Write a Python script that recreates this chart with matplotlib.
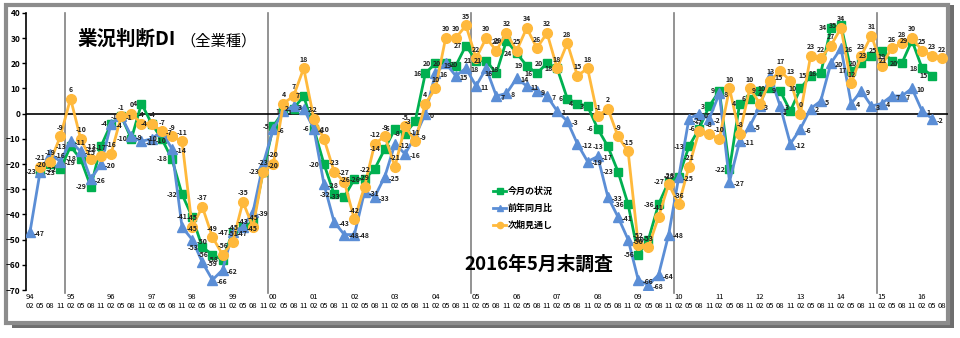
import numpy as np
import matplotlib.pyplot as plt
from matplotlib.patches import Rectangle
from matplotlib.lines import Line2D

plt.rcParams['font.family'] = ['Noto Sans CJK JP', 'DejaVu Sans']

# quarters 1994-02 .. 2016-08
years = ['94', '95', '96', '97', '98', '99', '00', '01', '02', '03', '04',
         '05', '06', '07', '08', '09', '10', '11', '12', '13', '14', '15', '16']
months = ['02', '05', '08', '11']

nan = np.nan
# 今月の状況
green = [nan, -23, -20, -22, -13, -18, -29, -13, -4, -1, -10, 4, -4, -10, -18, -32,
         -41, -53, -56, -58, -47, -45, -43, -23, -5, 1, 2, 7, -6, -20, -32, -33,
         -26, -26, -22, -14, -6, -8, -3, 16, 20, 20, 19, 27, 21, 21, 16, 29,
         24, 19, 16, 20, 18, 6, 4, 3, -6, -13, -23, -36, -56, -50, -36, -27,
         -25, -13, -6, 3, 9, -22, 4, 6, 9, 10, 9, 1, 10, 15, 16, 34,
         35, 17, 20, 23, 25, 21, 20, 29, 18, 15, nan]
# 前年同月比
blue = [-47, -23, -16, -19, -11, -15, -26, -20, -4, -1, -9, -11, -10, -7, -14, -45,
        -50, -59, -66, -62, -47, -45, -39, -20, -6, 1, 3, 2, -6, -28, -43, -48,
        -48, -31, -33, -25, -12, -16, -9, 0, 16, 20, 15, 18, 11, 18, 7, 8,
        14, 11, 9, 7, 1, -3, -12, -19, -17, -33, -41, -50, -66, -68, -64, -48,
        -25, -2, 0, -2, 8, -27, -11, -5, 3, 15, 3, -12, -6, 2, 5, 20,
        26, 4, 9, 3, 4, 7, 7, 10, 1, -2, nan]
# 次期見通し
orange = [nan, -21, -19, -9, 6, -10, -18, -17, -16, -1, 0, -4, -4, -7, -9, -11,
          -45, -37, -49, -56, -51, -35, -45, -23, -20, 4, 7, 18, -2, -10, -23, -27,
          -42, -29, -12, -9, -21, -5, -11, 4, 10, 30, 30, 35, 22, 30, 25, 32,
          25, 34, 26, 32, 18, 28, 15, 18, -1, 2, -9, -15, -52, -53, -41, -28,
          -36, -21, -7, -8, -10, 10, -8, 10, 4, 13, 17, 13, 0, 23, 22, 27,
          34, 12, 23, 31, 19, 26, 28, 30, 25, 23, 22]

C_GREEN = '#00B050'
C_BLUE = '#5B8ED6'
C_ORANGE = '#FFB93C'

x = np.arange(len(orange))

fig = plt.figure(figsize=(9.6, 3.38), dpi=100)
# outer frame with shadow
fig.patches.append(Rectangle((0.012, 0.03), 0.982, 0.955, transform=fig.transFigure,
                             facecolor='#6e6e6e', edgecolor='none', zorder=-2))
fig.patches.append(Rectangle((0.006, 0.045), 0.982, 0.94, transform=fig.transFigure,
                             facecolor='white', edgecolor='#8c8c8c', lw=3, zorder=-1))

ax = fig.add_axes([0.027, 0.142, 0.961, 0.82])
ax.set_zorder(2)
ax.set_facecolor('none')

series = [
    (green, C_GREEN, 's', 6, '今月の状況', (-3, 0), 'right', 'center'),
    (blue, C_BLUE, '^', 6.5, '前年同月比', (3, -1), 'left', 'center'),
    (orange, C_ORANGE, 'o', 7, '次期見通し', (0, 4), 'center', 'bottom'),
]
for vals, col, mk, ms, name, off, ha, va in series:
    ax.plot(x, vals, color=col, lw=2, marker=mk, ms=ms, label=name, zorder=3)
for vals, col, mk, ms, name, off, ha, va in series:
    for i, v in enumerate(vals):
        if np.isnan(v):
            continue
        ax.annotate(str(int(v)), (i, v), xytext=off, textcoords='offset points',
                    ha=ha, va=va, fontsize=5, fontweight='bold', color='#222222',
                    zorder=5)

ax.axhline(0, color='black', lw=1.2, zorder=2)
for b in [3.5, 23.5, 43.5, 63.5, 83.5]:
    ax.plot([b, b], [-71, 40], color='#808080', lw=1.2, zorder=1, clip_on=False)

ax.set_xlim(-0.4, 90.6)
ax.set_ylim(-70, 40)
ax.set_yticks(range(-70, 41, 10))
ax.tick_params(axis='y', labelsize=6, length=3, width=1, pad=1)
for t in ax.get_yticklabels():
    t.set_fontweight('bold')

labels = []
for yr in years:
    for m in months:
        labels.append((yr + '\n' + m) if m == '02' else ('\n' + m))
labels = labels[:len(orange)]
ax.set_xticks(x)
ax.set_xticklabels(labels, fontsize=5.5, linespacing=1.25)
ax.tick_params(axis='x', length=0, pad=2)

for s in ['top', 'right', 'bottom']:
    ax.spines[s].set_visible(False)
ax.spines['left'].set_linewidth(1.2)

fig.text(0.081, 0.885, '業況判断DI', fontsize=14, fontweight='bold', va='center')
fig.text(0.188, 0.88, '（全業種）', fontsize=11, va='center')
fig.text(0.484, 0.218, '2016年5月末調査', fontsize=13.5, fontweight='bold', va='center')

handles = [Line2D([0], [0], color=c, marker=m, ms=4.5, lw=2) for c, m in
           [(C_GREEN, 's'), (C_BLUE, '^'), (C_ORANGE, 'o')]]
ax.legend(handles, ['今月の状況', '前年同月比', '次期見通し'], loc='upper left',
          bbox_to_anchor=(0.498, 0.4), frameon=False,
          handlelength=1.4, handletextpad=0.2, labelspacing=0.85,
          prop={'weight': 'bold', 'size': 6.5})

fig.savefig('out.png', dpi=100)
